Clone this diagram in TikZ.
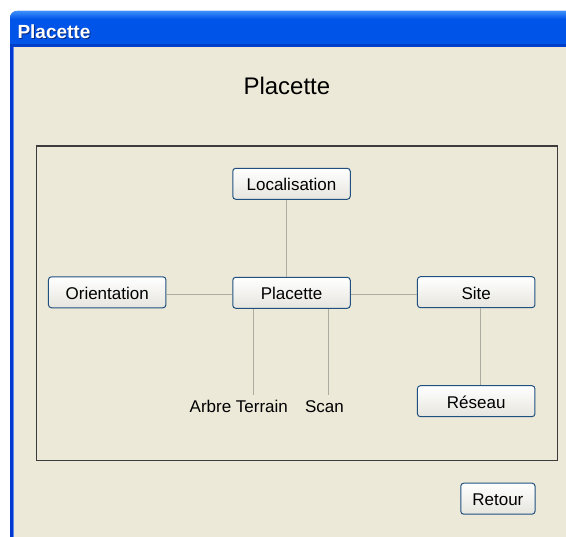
\documentclass[tikz,border=0pt]{standalone}
\usepackage{fontspec}
\setmainfont{Liberation Sans}
\definecolor{xpbeige}{HTML}{ECE9D8}
\definecolor{xpblue}{HTML}{0055E8}
\definecolor{xpbluelight}{HTML}{3D8EFA}
\definecolor{xpbluedark}{HTML}{0040C8}
\definecolor{xpborder}{HTML}{0038D0}
\definecolor{xpinner}{HTML}{5A8CF0}
\definecolor{btnborder}{HTML}{1F5080}
\definecolor{btnbottom}{HTML}{E6E5DE}
\definecolor{connline}{HTML}{ABABA2}
\definecolor{panelline}{HTML}{3C3C3C}
\definecolor{shadowblue}{HTML}{0A2A80}
\begin{document}
\begin{tikzpicture}[x=1pt,y=-1pt,
  btn/.style={draw=btnborder, line width=1pt, rounded corners=3pt,
    top color=white, bottom color=btnbottom,
    minimum width=117.5pt, minimum height=31pt, inner sep=0pt,
    font=\fontsize{17}{20}\selectfont, text height=15pt, text depth=1.2pt},
  lbl/.style={font=\fontsize{17}{20}\selectfont, inner sep=0pt, anchor=base},
  conn/.style={draw=connline, line width=1pt}]
\useasboundingbox (0,0) rectangle (566,537);
\fill[white] (0,0) rectangle (566,537);
% window body
\fill[xpbeige] (10,40) rectangle (566,537);
\fill[xpborder] (10,40) rectangle (13.3,537);
\fill[xpinner] (13.3,47) rectangle (14.3,537);
% title bar
\begin{scope}
  \clip (0,0) rectangle (566,47);
  \fill[xpblue, rounded corners=7pt] (10,11) rectangle (620,80);
  \begin{scope}
    \clip[rounded corners=7pt] (10,11) rectangle (620,80);
    \shade[top color=xpbluelight, bottom color=xpblue] (10,11) rectangle (566,19);
  \end{scope}
  \fill[xpbluedark] (10,44) rectangle (566,47);
\end{scope}
\node[anchor=base west, inner sep=0pt, text=shadowblue, font=\fontsize{19}{22}\selectfont\bfseries] (wintitleshadow) at (18.3,40) {Placette};
\node[anchor=base west, inner sep=0pt, text=white, font=\fontsize{19}{22}\selectfont\bfseries] (wintitle) at (17.3,39) {Placette};
% heading
\node[anchor=base west, inner sep=0pt, font=\fontsize{24}{28}\selectfont] (heading) at (243.3,95) {Placette};
% panel
\draw[panelline, line width=1.1pt] (36.5,146) rectangle (557.5,460.5);
% nodes
\node[btn] (localisation) at (291.5,183.8) {Localisation};
\node[btn] (placette) at (291.5,292.8) {Placette};
\node[btn] (orientation) at (107.2,292.3) {Orientation};
\node[btn] (site) at (476.2,292.2) {Site};
\node[btn] (reseau) at (476.2,401.2) {Réseau};
\node[btn, minimum width=74.3pt] (retour) at (497.9,498.7) {Retour};
\node[lbl] (arbre) at (238.8,412.3) {Arbre Terrain};
\node[lbl] (scan) at (324.5,412.3) {Scan};
% connectors
\draw[conn] ([xshift=-5.5pt]localisation.south) -- ([xshift=-5.5pt]placette.north);
\draw[conn] ([yshift=-2.7pt]orientation.east) -- ([yshift=-2.7pt]orientation.east -| placette.west);
\draw[conn] ([yshift=-2.2pt]placette.east) -- ([yshift=-2.2pt]placette.east -| site.west);
\draw[conn] ([xshift=4.5pt]site.south) -- ([xshift=4.5pt]reseau.north);
\coordinate (arbretop) at (253,395);
\coordinate (scantop) at (328.7,395);
\draw[conn] (placette.south -| arbretop) -- (arbretop);
\draw[conn] (placette.south -| scantop) -- (scantop);
\end{tikzpicture}
\end{document}
